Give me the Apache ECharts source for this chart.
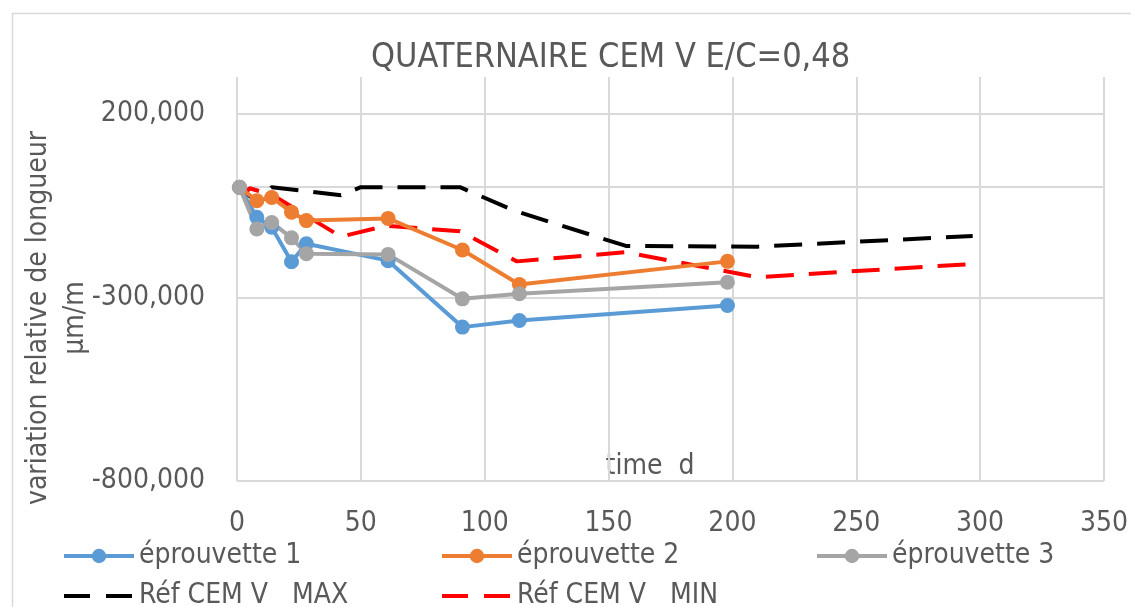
<!DOCTYPE html>
<html>
<head>
<meta charset="utf-8">
<script src="https://cdn.jsdelivr.net/npm/echarts@6/dist/echarts.min.js"></script>
<style>
html,body{margin:0;padding:0;background:#fff;}
#c{width:1131px;height:607px;}
</style>
</head>
<body>
<div id="c"></div>
<script>
// ---- data ----
const chartTitle = 'QUATERNAIRE CEM V E/C=0,48';
const yAxisTitle = 'variation relative de longueur\nµm/m';
const xAxisTitle = 'time  d';
const seriesNames = ['éprouvette 1', 'éprouvette 2', 'éprouvette 3', 'Réf CEM V   MAX', 'Réf CEM V   MIN'];
const daysSamples = [1, 8, 14, 22, 28, 61, 91, 114, 198];
const eprouvette1 = [0, -82000, -109000, -203000, -154000, -200000, -381000, -363000, -322000];
const eprouvette2 = [0, -37000, -28000, -68000, -91000, -85000, -171000, -265000, -202000];
const eprouvette3 = [0, -114000, -96000, -138000, -181000, -183000, -304000, -290000, -259000];
const daysMax = [1, 8, 14, 42, 50, 90, 112, 157, 210, 297];
const refMax = [0, -41000, 0, -22000, 0, 0, -64000, -160000, -162000, -133000];
const daysMin = [1, 3, 5, 14, 42, 60, 90, 113, 157, 210, 297];
const refMin = [0, -22000, -3000, -20000, -135000, -105000, -120000, -202000, -177000, -245000, -209000];
const xMin = 0, xMax = 350, xStep = 50;
const yMin = -800000, yMax = 300000, yStep = 500000;
const zeroLine = 0;

const FONT = '"Liberation Sans Narrow", "DejaVu Sans Condensed", "Open Sans", sans-serif';
const TXT = '#595959';
const GRID = '#d9d9d9';
const COLORS = ['#5b9bd5', '#ed7d31', '#a5a5a5', '#000000', '#ff0000'];
const DASH = [28, 15];

function pairs(xs, ys){ return xs.map((x,i)=>[x, ys[i]]); }
function fmt(v){ return Math.round(v).toLocaleString('en-US'); }

const chart = echarts.init(document.getElementById('c'), null, {renderer:'canvas'});

function solid(name, color, xs, ys, extra){
  return Object.assign({
    name, type:'line', data: pairs(xs, ys),
    symbol:'circle', symbolSize:15, showSymbol:true,
    lineStyle:{color, width:4},
    itemStyle:{color},
    z:3
  }, extra||{});
}
function dashed(name, color, xs, ys){
  return {
    name, type:'line', data: pairs(xs, ys),
    symbol:'none', showSymbol:false,
    lineStyle:{color, width:4, type:DASH, cap:'butt'},
    itemStyle:{color},
    z:2
  };
}

const legendText = {color:TXT, fontFamily:FONT, fontSize:28};
const legendPos = [[57,537],[435,537],[810,537],[57,577],[435,577]];
const legends = seriesNames.map((n, i) => {
  const isDash = i >= 3;
  return {
    left: legendPos[i][0], top: legendPos[i][1],
    itemWidth:70, itemHeight:18, textStyle:legendText,
    selectedMode:false,
    data:[ isDash
      ? {name:n, itemStyle:{opacity:0}, lineStyle:{color:COLORS[i], width:4, type:[26,16], cap:'butt'}}
      : {name:n, itemStyle:{color:COLORS[i]}, lineStyle:{color:COLORS[i], width:4}} ]
  };
});

chart.setOption({
  animation:false,
  title:{text:chartTitle, left:366, top:36, textStyle:{color:TXT, fontFamily:FONT, fontSize:34, fontWeight:'normal'}},
  grid:{left:237, right:27, top:77, bottom:126, containLabel:false},
  xAxis:{type:'value', min:xMin, max:xMax, interval:xStep,
    axisLine:{show:false}, axisTick:{show:false},
    axisLabel:{color:TXT, fontFamily:FONT, fontSize:28, margin:29},
    splitLine:{show:true, lineStyle:{color:GRID, width:2}}
  },
  yAxis:{type:'value', min:yMin, max:yMax, interval:yStep,
    axisLine:{show:false}, axisTick:{show:false},
    axisLabel:{color:TXT, fontFamily:FONT, fontSize:28, margin:32, showMaxLabel:false, formatter:fmt},
    splitLine:{show:true, showMaxLine:false, lineStyle:{color:GRID, width:2}}
  },
  legend: legends,
  graphic:[
    {type:'rect', left:10, top:11, shape:{width:1200, height:700}, style:{fill:'none', stroke:GRID, lineWidth:1.5}, silent:true, z:-10},
    {type:'text', x:57, y:318, rotation:Math.PI/2,
      style:{text:yAxisTitle, fill:TXT, font:'28px ' + FONT, align:'center', verticalAlign:'middle', lineHeight:37}},
    {type:'text', x:650, y:467, style:{text:xAxisTitle, fill:TXT, font:'28px ' + FONT, align:'center', verticalAlign:'middle'}}
  ],
  series:[
    solid(seriesNames[0], COLORS[0], daysSamples, eprouvette1, {
      markLine:{silent:true, symbol:'none', label:{show:false}, lineStyle:{color:GRID, width:2, type:'solid'}, data:[{yAxis:zeroLine}], z:1}
    }),
    solid(seriesNames[1], COLORS[1], daysSamples, eprouvette2),
    solid(seriesNames[2], COLORS[2], daysSamples, eprouvette3),
    dashed(seriesNames[3], COLORS[3], daysMax, refMax),
    dashed(seriesNames[4], COLORS[4], daysMin, refMin)
  ]
});
</script>
</body>
</html>
